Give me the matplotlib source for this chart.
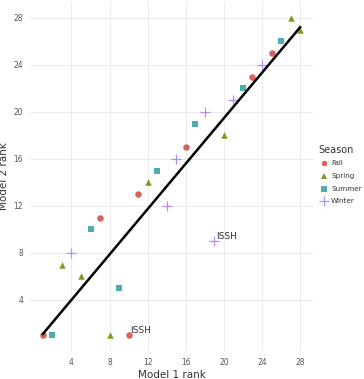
import numpy as np
import matplotlib
matplotlib.use('Agg')
from matplotlib import pyplot as plt

seasons = ['Fall', 'Spring', 'Summer', 'Winter']
colors = {'Fall': '#D9625C', 'Spring': '#7A9E1A', 'Summer': '#4FADB0', 'Winter': '#B58CF0'}
markers = {'Fall': 'o', 'Spring': '^', 'Summer': 's', 'Winter': '+'}

fall_x = [1, 7, 10, 11, 16, 23, 25]
fall_y = [1, 11, 1, 13, 17, 23, 25]
spring_x = [3, 5, 8, 12, 20, 27, 28]
spring_y = [7, 6, 1, 14, 18, 28, 27]
summer_x = [2, 6, 9, 13, 17, 22, 26]
summer_y = [1, 10, 5, 15, 19, 22, 26]
winter_x = [4, 14, 15, 18, 19, 21, 24]
winter_y = [8, 12, 16, 20, 9, 21, 24]

# fitted line
fit_x = [1, 28]
fit_y = [1.1, 27.2]

label_pts = [(10, 1, 'ISSH'), (19, 9, 'ISSH')]

data = {'Fall': (fall_x, fall_y), 'Spring': (spring_x, spring_y),
        'Summer': (summer_x, summer_y), 'Winter': (winter_x, winter_y)}

fig = plt.figure(figsize=(3.64, 3.79), dpi=100)
ax = fig.add_axes([30/364, 28/379, 283/364, 349/379])

for s in seasons:
    x, y = data[s]
    if markers[s] == '+':
        ax.scatter(x, y, marker='+', s=55, color=colors[s], linewidths=0.9, zorder=3)
    else:
        ax.scatter(x, y, marker=markers[s], s=22, color=colors[s], linewidths=0, zorder=3)

ax.plot(fit_x, fit_y, color='black', linewidth=1.8, zorder=4)

for px, py, t in label_pts:
    ax.text(px + 0.2, py + 0.05, t, fontsize=6.5, color='#333333', va='bottom', ha='left', zorder=5)

ax.set_xlim(-0.35, 29.35)
ax.set_ylim(-0.35, 29.35)
ax.set_xticks([4, 8, 12, 16, 20, 24, 28])
ax.set_yticks([4, 8, 12, 16, 20, 24, 28])
ax.grid(True, color='#EBEBEB', linewidth=0.7)
ax.set_axisbelow(True)
for sp in ax.spines.values():
    sp.set_visible(False)
ax.tick_params(length=0, labelsize=5.5, labelcolor='#555555', pad=5)
ax.set_xlabel('Model 1 rank', fontsize=7.5, color='#333333', labelpad=2)
ax.set_ylabel('Model 2 rank', fontsize=7.5, color='#333333', labelpad=3)

# legend
fig.text(318/364, 1 - 150/379, 'Season', fontsize=7, color='#333333', va='center', ha='left')
rows = [163, 176, 189, 201]
for s, ry in zip(seasons, rows):
    yy = 1 - ry/379
    if markers[s] == '+':
        fig.lines.append(plt.Line2D([324/364], [yy], marker='+', markersize=7, color=colors[s],
                                    markeredgewidth=0.9, linestyle='none', transform=fig.transFigure))
    else:
        fig.lines.append(plt.Line2D([324/364], [yy], marker=markers[s], markersize=4, color=colors[s],
                                    markeredgewidth=0, linestyle='none', transform=fig.transFigure))
    fig.text(331/364, yy, s, fontsize=5.2, color='#333333', va='center', ha='left')

fig.savefig('out.png', dpi=100)
